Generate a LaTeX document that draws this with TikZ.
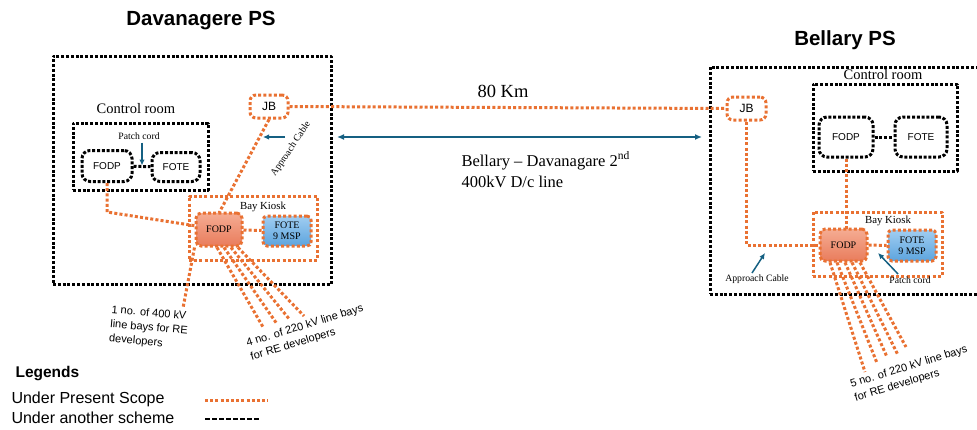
\documentclass[tikz,border=0pt]{standalone}
\usepackage{fontspec}
\setmainfont{Liberation Serif}
\setsansfont{Liberation Sans}
\usepackage{tikz}
\usetikzlibrary{arrows.meta,calc}
\definecolor{scopeorange}{RGB}{233,113,50}
\definecolor{arrowblue}{RGB}{21,96,130}
\definecolor{fodptop}{RGB}{245,172,147}
\definecolor{fodpbot}{RGB}{233,124,92}
\definecolor{fotetop}{RGB}{160,205,241}
\definecolor{fotebot}{RGB}{92,164,222}

\begin{document}
\begin{tikzpicture}[x=1pt, y=-1pt, line join=round,
    scopeline/.style={draw=scopeorange, line width=3pt, dash pattern=on 3pt off 2.2pt},
    otherline/.style={draw=black, line width=3pt, dash pattern=on 3pt off 1.8pt},
    ptr/.style={draw=arrowblue, line width=1.5pt, -{Latex[length=6pt,width=5.5pt]}},
    dblptr/.style={draw=arrowblue, line width=1.5pt, {Latex[length=7pt,width=6pt]}-{Latex[length=7pt,width=6pt]}},
    unit/.style={inner sep=0pt, align=center},
    fodpfill/.style={top color=fodptop, bottom color=fodpbot},
    fotefill/.style={top color=fotetop, bottom color=fotebot},
    titlefont/.style={font={\sffamily\bfseries\fontsize{20.5}{24}\selectfont}},
    roomfont/.style={font={\fontsize{14.5}{17}\selectfont}},
    notefont/.style={font={\fontsize{9.7}{11}\selectfont}},
    kioskfont/.style={font={\fontsize{10.8}{12}\selectfont}},
    cabinfont/.style={font={\sffamily\fontsize{10}{12}\selectfont}},
    jbfont/.style={font={\sffamily\fontsize{12}{14}\selectfont}},
    bayunitfont/.style={font={\fontsize{10}{11}\selectfont}},
    bayfont/.style={font={\sffamily\fontsize{11}{14.5}\selectfont}},
    legendfont/.style={font={\sffamily\fontsize{16}{19}\selectfont}}]

    \useasboundingbox (0,0) rectangle (977,429);

    % Davanagere PS
    \node[titlefont, anchor=base] (dvtitle) at (201,25) {Davanagere PS};
    \node[otherline, minimum width=278pt, minimum height=228pt] (dvps) at (192,170) {};
    \node[roomfont, anchor=base] (dvcrlbl) at (136,113) {Control room};
    \node[otherline, minimum width=135pt, minimum height=67pt] (dvcr) at (140.5,156.5) {};
    \node[notefont, anchor=base] (dvpclbl) at (139,139) {Patch cord};
    \node[unit, otherline, rounded corners=8pt, minimum width=50pt, minimum height=31pt, cabinfont] (dvfodp) at (107,166) {FODP};
    \node[unit, otherline, rounded corners=8pt, minimum width=48pt, minimum height=29pt, cabinfont] (dvfote) at (176,167) {FOTE};
    \node[unit, scopeline, rounded corners=6pt, minimum width=38pt, minimum height=23pt, jbfont] (dvjb) at (269,106.5) {JB};
    \node[scopeline, minimum width=128pt, minimum height=64pt] (dvbk) at (253,228) {};
    \node[kioskfont, anchor=base] (dvbklbl) at (263,209) {Bay Kiosk};
    \node[notefont, rotate=56] (dvaclbl) at (291,149) {Approach Cable};

    \coordinate (dvbend) at (107,212);
    \draw[otherline] (dvfodp) -- (dvfote);
    \draw[scopeline] (dvfodp.south) -- (dvbend) -- (219,229.5);
    \draw[scopeline] (dvjb.south) -- (219,213);
    \node[unit, scopeline, fodpfill, rounded corners=5pt, minimum width=46pt, minimum height=33pt, bayunitfont] (dvbfodp) at (219,229.5) {FODP};
    \node[unit, scopeline, fotefill, rounded corners=4pt, minimum width=48pt, minimum height=30pt, bayunitfont] (dvbfote) at (287,231) {FOTE\\9 MSP};
    \draw[scopeline] (dvbfodp) -- (dvbfote);

    % line bays for RE developers
    \coordinate (dvre0) at (183,308);
    \draw[scopeline] (dvbfodp.south west) -- (dvre0);
    \foreach \dx/\ex/\ey [count=\i] in {-2/263/327, 5/277/324, 12/290/320, 19/304/316}{
        \coordinate (dvre\i) at (\ex,\ey);
        \draw[scopeline] ([xshift=\dx pt]dvbfodp.south) -- (dvre\i);
    }
    \node[bayfont, align=left, rotate=-5] (dvre400lbl) at (149,328) {1 no. of 400 kV\\line bays for RE\\developers};
    \node[bayfont, align=left, rotate=17] (dvre220lbl) at (307,333) {4 no. of 220 kV line bays\\for RE developers};

    \coordinate (dvpc) at ($(dvfodp.east)!0.5!(dvfote.west)$);
    \draw[ptr, shorten >=1pt] (dvpclbl.south -| dvpc) -- (dvpc);
    \coordinate (dvacT) at (285,137);
    \coordinate (dvacH) at (263,137);
    \draw[ptr] (dvacT) -- (dvacH);

    % line between the stations
    \node[font={\fontsize{18.5}{22}\selectfont}, anchor=base] (kmlbl) at (503,97) {80 Km};
    \coordinate (lnW) at (337,137);
    \coordinate (lnE) at (702,137);
    \draw[dblptr] (lnW) -- (lnE);
    \node[font={\fontsize{16.5}{20}\selectfont}, anchor=base west] (lnlbl1) at (458,166) {Bellary \textendash{} Davanagare 2\textsuperscript{nd}};
    \node[font={\fontsize{16.5}{20}\selectfont}, anchor=base west] (lnlbl2) at (458,187) {400kV D/c line};

    % Bellary PS
    \node[titlefont, anchor=base] (bltitle) at (845,45) {Bellary PS};
    \node[otherline, minimum width=280pt, minimum height=227pt] (blps) at (850,180.5) {};
    \node[roomfont, anchor=base] (blcrlbl) at (883,79) {Control room};
    \node[otherline, minimum width=144pt, minimum height=87pt] (blcr) at (885,127.5) {};
    \node[unit, otherline, rounded corners=8pt, minimum width=54pt, minimum height=40pt, cabinfont] (blfodp) at (846,137) {FODP};
    \node[unit, otherline, rounded corners=8pt, minimum width=52pt, minimum height=40pt, cabinfont] (blfote) at (921,137) {FOTE};
    \node[unit, scopeline, rounded corners=6pt, minimum width=39pt, minimum height=23pt, jbfont] (bljb) at (746.5,108.5) {JB};
    \node[scopeline, minimum width=129pt, minimum height=64pt] (blbk) at (877.5,244) {};
    \node[kioskfont, anchor=base] (blbklbl) at (888,223) {Bay Kiosk};
    \node[notefont, anchor=base] (blaclbl) at (757,281) {Approach Cable};
    \node[notefont, anchor=base] (blpclbl) at (910,283) {Patch cord};

    \draw[scopeline] (dvjb.east) -- (bljb.west);
    \draw[otherline] (blfodp) -- (blfote);
    \draw[scopeline] (bljb.south) |- (843.5,245);
    \draw[scopeline] (blfodp.south) -- (846,229);
    \node[unit, scopeline, fodpfill, rounded corners=5pt, minimum width=47pt, minimum height=32pt, bayunitfont] (blbfodp) at (843.5,245) {FODP};
    \node[unit, scopeline, fotefill, rounded corners=4pt, minimum width=48pt, minimum height=31pt, bayunitfont] (blbfote) at (912,245.5) {FOTE\\9 MSP};
    \draw[scopeline] (blbfodp) -- (blbfote);

    \foreach \dx/\ex/\ey [count=\i] in {-13.5/865/372, -6.5/877/363, 1.5/887/357, 8.5/898/355, 16.5/906/347}{
        \coordinate (blre\i) at (\ex,\ey);
        \draw[scopeline] ([xshift=\dx pt]blbfodp.south) -- (blre\i);
    }
    \node[bayfont, align=left, rotate=17] (blre220lbl) at (911,374) {5 no. of 220 kV line bays\\for RE developers};

    \coordinate (blacT) at (752,273);
    \coordinate (blacH) at (765,253);
    \draw[ptr] (blacT) -- (blacH);
    \coordinate (blpcT) at (898,274);
    \coordinate (blpcH) at (878,253);
    \draw[ptr] (blpcT) -- (blpcH);

    % legends
    \node[font={\sffamily\bfseries\fontsize{15.5}{18}\selectfont}, anchor=base west] (lgtitle) at (12,377) {Legends};
    \node[legendfont, anchor=base west] (lgscope) at (8,403) {Under Present Scope};
    \node[legendfont, anchor=base west] (lgother) at (8,423) {Under another scheme};
    \coordinate (lgsA) at (205,400);
    \coordinate (lgsB) at (268,400);
    \draw[scopeline] (lgsA) -- (lgsB);
    \coordinate (lgoA) at (205,419);
    \coordinate (lgoB) at (260,419);
    \draw[draw=black, line width=2pt, dash pattern=on 5pt off 2pt] (lgoA) -- (lgoB);

\end{tikzpicture}
\end{document}
